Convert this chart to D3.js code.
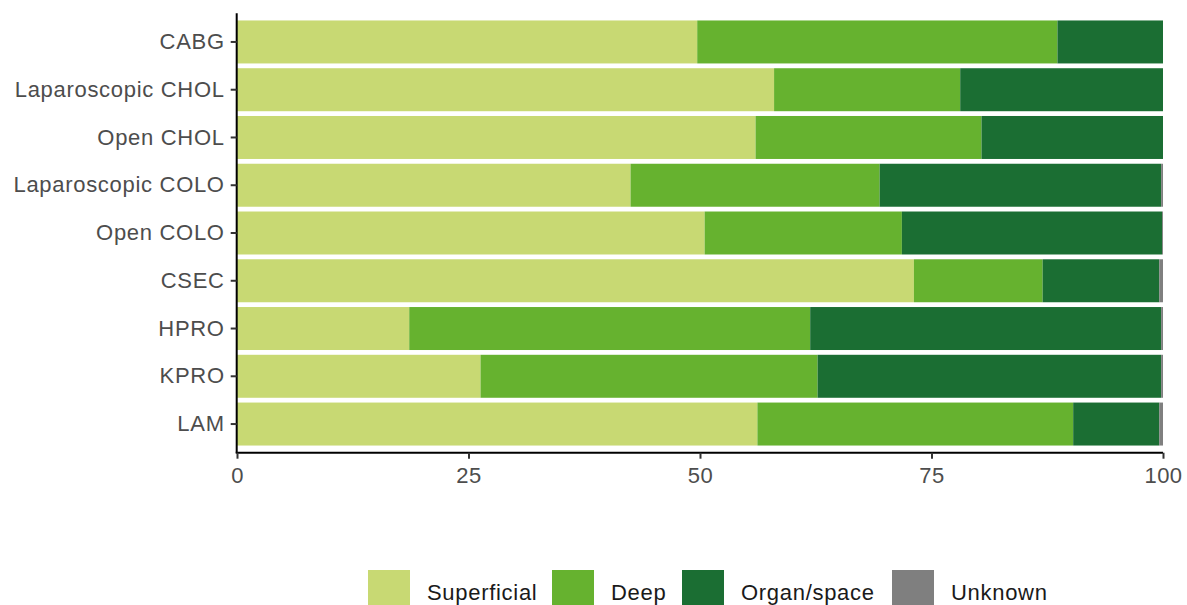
<!DOCTYPE html>
<html>
<head>
<meta charset="utf-8">
<script src="https://cdn.jsdelivr.net/npm/d3@7"></script>
<style>
  html, body { margin: 0; padding: 0; background: #fff; }
  svg { display: block; font-family: "Liberation Sans", Arial, sans-serif; }
</style>
</head>
<body>
<svg id="chart" width="1187" height="605"></svg>
<script>
const categories = ["CABG", "Laparoscopic CHOL", "Open CHOL", "Laparoscopic COLO", "Open COLO", "CSEC", "HPRO", "KPRO", "LAM"];
const seriesNames = ["Superficial", "Deep", "Organ/space", "Unknown"];
const superficial = [49.7, 58.0, 56.0, 42.5, 50.5, 73.1, 18.6, 26.3, 56.2];
const deep        = [38.9, 20.1, 24.4, 26.9, 21.3, 13.9, 43.3, 36.4, 34.1];
const organSpace  = [11.4, 21.9, 19.6, 30.4, 28.1, 12.6, 37.9, 37.1, 9.3];
const unknown     = [0.0, 0.0, 0.0, 0.2, 0.1, 0.4, 0.2, 0.2, 0.4];
const xTicks = [0, 25, 50, 75, 100];
const colors = ["#c8d973", "#66b22f", "#1b6e33", "#7f7f7f"];

const rows = categories.map((c, i) => ({
  cat: c,
  "Superficial": superficial[i],
  "Deep": deep[i],
  "Organ/space": organSpace[i],
  "Unknown": unknown[i]
}));

const svg = d3.select("#chart");
const pLeft = 237, pRight = 1163, pTop = 13.3, pBottom = 452.7;

const x = d3.scaleLinear().domain([0, 100]).range([pLeft, pRight]);
const y = d3.scaleBand().domain(categories).range([pTop, pBottom])
  .paddingInner(0.1).paddingOuter(0.15);
const color = d3.scaleOrdinal().domain(seriesNames).range(colors);

const stack = d3.stack().keys(seriesNames);
const layers = stack(rows);

svg.append("g").selectAll("g")
  .data(layers).join("g")
  .attr("fill", d => color(d.key))
  .selectAll("rect")
  .data(d => d).join("rect")
  .attr("x", d => x(d[0]))
  .attr("width", d => Math.max(0, x(d[1]) - x(d[0])))
  .attr("y", d => y(d.data.cat))
  .attr("height", y.bandwidth());

// Y axis
const yAxis = svg.append("g")
  .attr("transform", `translate(${pLeft - 0.3},0)`)
  .call(d3.axisLeft(y).tickSize(6).tickSizeOuter(0).tickPadding(6));
yAxis.select(".domain").attr("stroke", "#000").attr("stroke-width", 2)
  .attr("d", `M0,${pTop}V${pBottom}`);
yAxis.selectAll(".tick line").attr("stroke", "#333").attr("stroke-width", 2);
yAxis.selectAll(".tick text")
  .attr("fill", "#4d4d4d").style("font-size", "22px")
  .style("letter-spacing", "0.7px")
  .attr("font-family", "Liberation Sans, Arial, sans-serif");

// X axis
const xAxis = svg.append("g")
  .attr("transform", `translate(0,${pBottom})`)
  .call(d3.axisBottom(x).tickValues(xTicks).tickSize(6).tickSizeOuter(0).tickPadding(9));
xAxis.select(".domain").attr("stroke", "#000").attr("stroke-width", 2)
  .attr("d", `M${pLeft - 1.3},0H${pRight}`);
xAxis.selectAll(".tick line").attr("stroke", "#333").attr("stroke-width", 2);
xAxis.selectAll(".tick text")
  .attr("fill", "#4d4d4d").style("font-size", "22px")
  .style("letter-spacing", "0.5px")
  .attr("font-family", "Liberation Sans, Arial, sans-serif");

// Legend
const legendX = [368, 552, 682, 892];
const legend = svg.append("g");
const items = legend.selectAll("g").data(seriesNames).join("g")
  .attr("transform", (d, i) => `translate(${legendX[i]},570)`);
items.append("rect")
  .attr("width", 42).attr("height", 42)
  .attr("fill", d => color(d));
items.append("text")
  .attr("x", 59).attr("y", 30)
  .attr("fill", "#1a1a1a")
  .style("font-size", "22px")
  .style("letter-spacing", "0.7px")
  .text(d => d);
</script>
</body>
</html>
